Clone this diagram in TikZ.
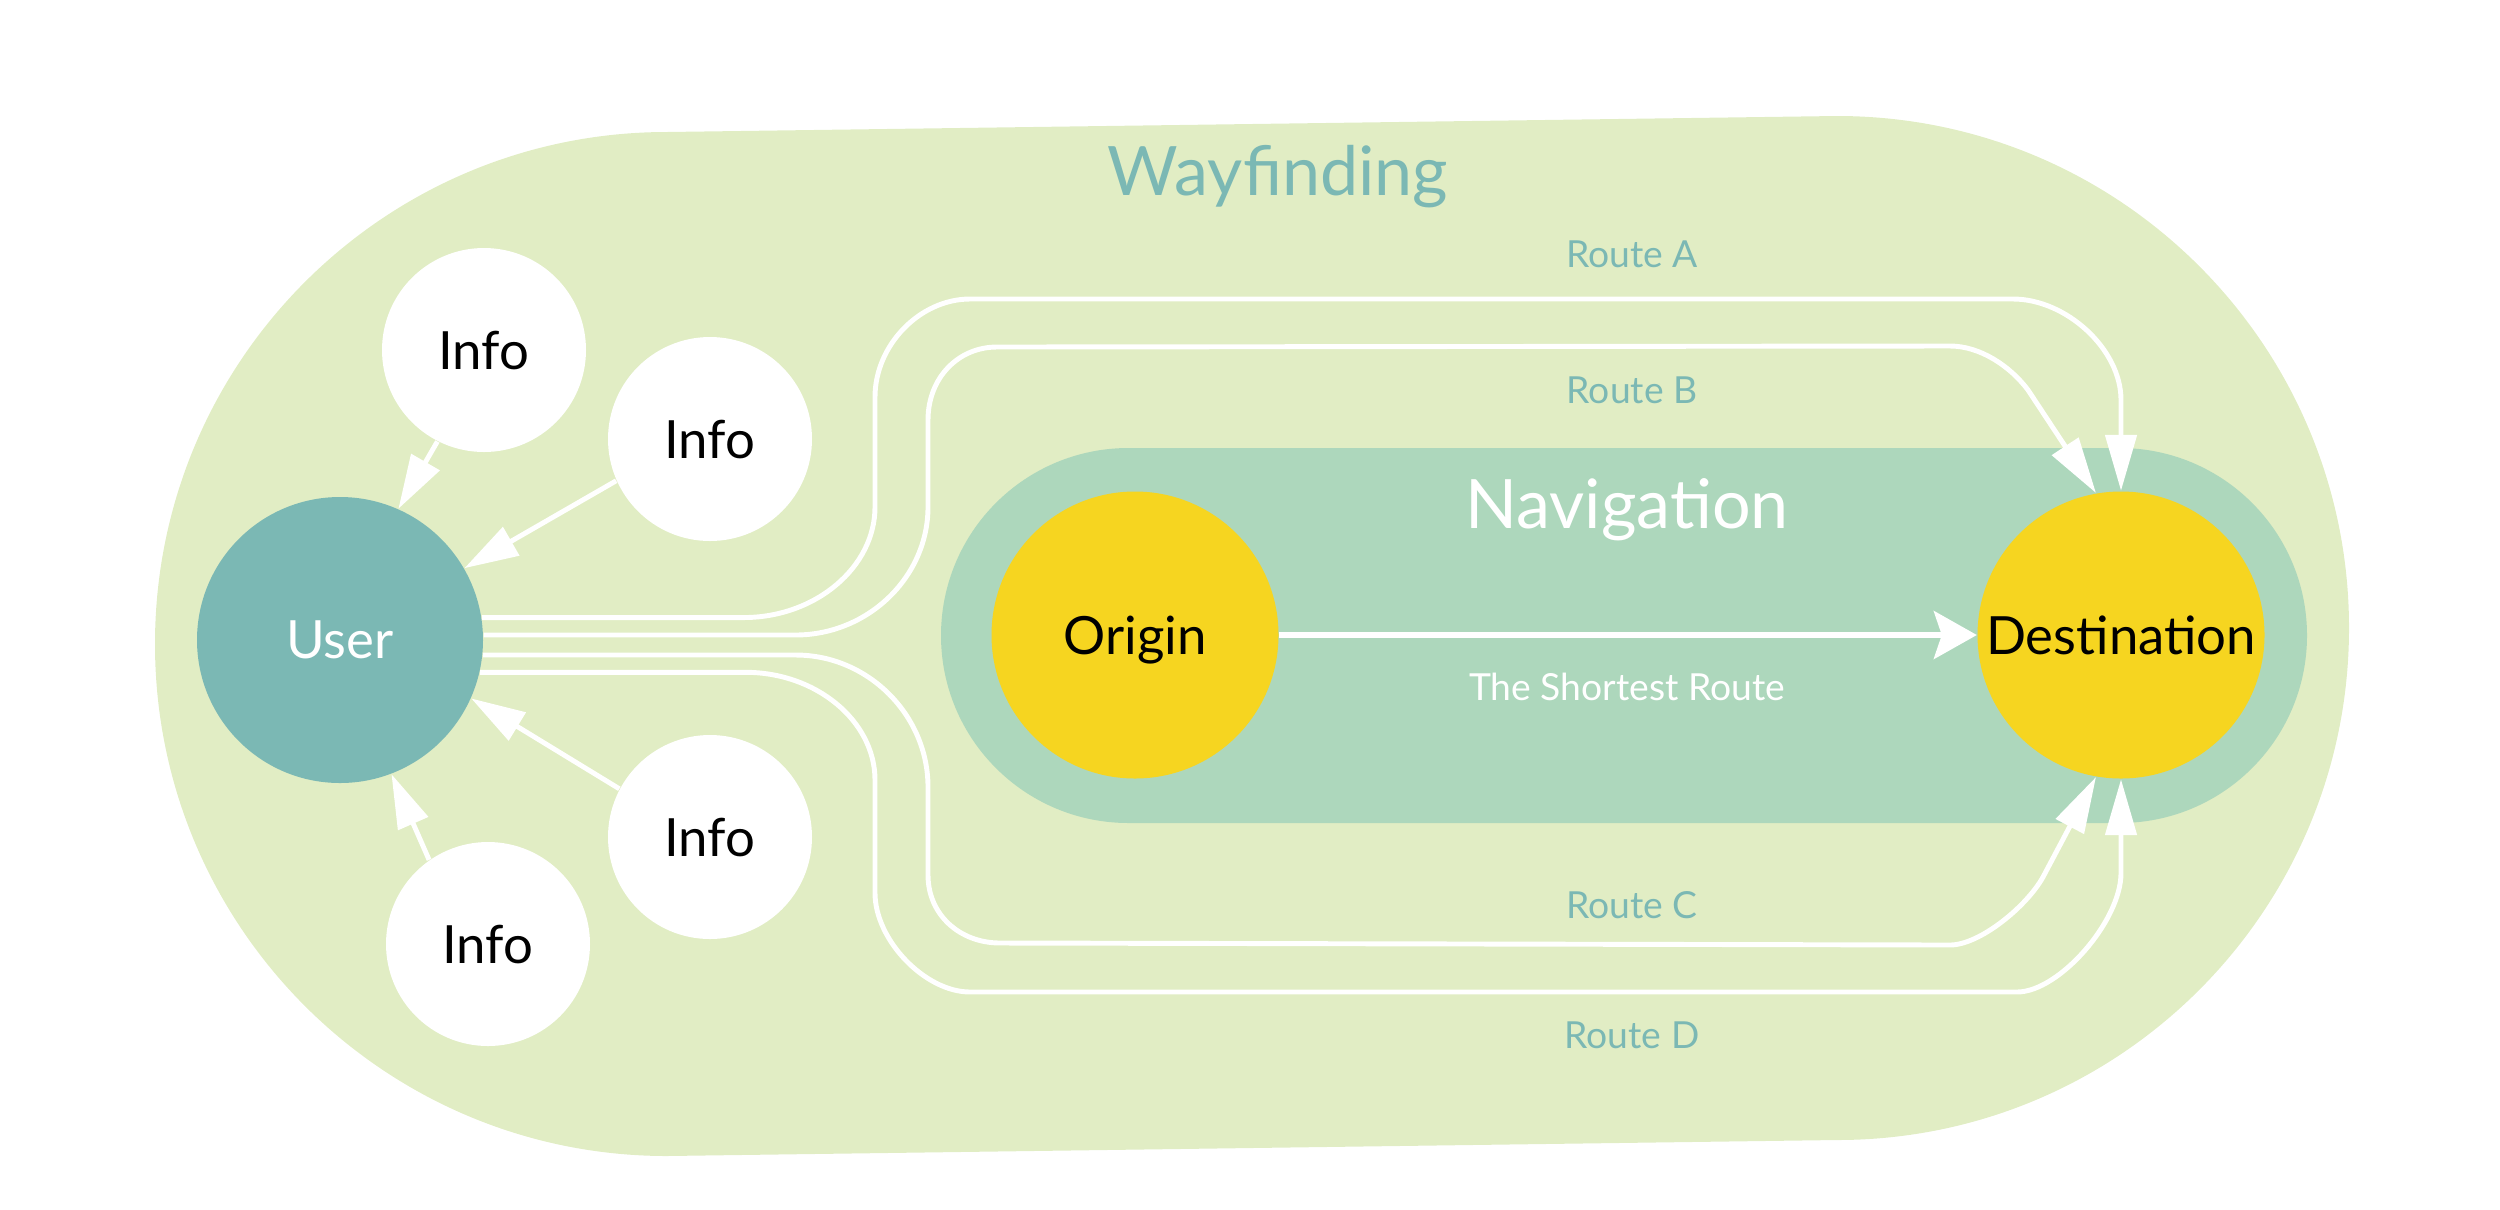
\documentclass[tikz,border=0pt]{standalone}
\usepackage{fontspec}
\setmainfont{Lato}
\usetikzlibrary{arrows.meta}
\definecolor{wayfill}{HTML}{E1EDC4}
\definecolor{navfill}{HTML}{ADD7BC}
\definecolor{usercol}{HTML}{7BB8B4}
\definecolor{placecol}{HTML}{F6D520}

\begin{document}
\begin{tikzpicture}[y=-1cm,
    spot/.style={circle,inner sep=0pt,text depth=0pt,font=\fontsize{15}{18}\selectfont},
    infospot/.style={spot,fill=white,minimum size=2.04cm},
    placespot/.style={spot,fill=placecol,minimum size=2.87cm},
    route/.style={white,line width=1.4pt,-{Triangle[length=0.56cm,width=0.31cm]}},
    infoarrow/.style={white,line width=1.4pt,-{Triangle[length=0.54cm,width=0.32cm]}},
    routelabel/.style={usercol,anchor=base,font=\fontsize{10.6}{13}\selectfont},
    bigtitle/.style={anchor=base,font=\fontsize{19.4}{23}\selectfont}]
  \useasboundingbox (0,0) rectangle (25,12.09);
  \fill[wayfill] (6.67,1.32) -- (18.37,1.16) arc[start angle=-90,end angle=90,radius=5.12]
    -- (6.67,11.56) arc[start angle=90,end angle=270,radius=5.12] -- cycle;
  \fill[navfill,rounded corners=1.875cm] (9.41,4.48) rectangle (23.07,8.23);

  \node[spot,fill=usercol,text=white,minimum size=2.86cm] (user) at (3.40,6.40) {User};
  \node[infospot] (info1) at (4.84,3.50) {Info};
  \node[infospot] (info2) at (7.10,4.39) {Info};
  \node[infospot] (info3) at (7.10,8.37) {Info};
  \node[infospot] (info4) at (4.88,9.44) {Info};
  \node[placespot] (origin) at (11.35,6.35) {Origin};
  \node[placespot] (dest) at (21.21,6.35) {Destination};

  \node[bigtitle,usercol] (wayname) at (12.78,1.95) {Wayfinding};
  \node[bigtitle,white] (navname) at (16.27,5.28) {Navigation};
  \node[routelabel,white] (shortname) at (16.27,7.00) {The Shortest Route};
  \node[routelabel] (labela) at (16.32,2.67) {Route A};
  \node[routelabel] (labelb) at (16.32,4.03) {Route B};
  \node[routelabel] (labelc) at (16.32,9.18) {Route C};
  \node[routelabel] (labeld) at (16.32,10.48) {Route D};

  \draw[infoarrow] (info1.243) -- (user.66);
  \draw[infoarrow] (info2.204) -- (user.30);
  \draw[infoarrow] (info3.152) -- (user.-24);
  \draw[infoarrow] (info4.125) -- (user.-69);

  \draw[white,line width=1.5pt,-{Stealth[length=0.43cm,width=0.48cm,inset=0.08cm]}] (origin) -- (dest);

  \draw[route] (user.9) -- ++(2.63,0) .. controls (8.16,6.17) and (8.75,5.67) .. (8.75,5.07)
    -- (8.75,3.97) .. controls (8.75,3.45) and (9.20,2.99) .. (9.70,2.99)
    -- (20.13,2.99) .. controls (20.66,2.99) and (21.21,3.49) .. (21.21,4.00) -- (dest.90);
  \draw[route] (user.2) -- ++(3.12,0) .. controls (8.68,6.35) and (9.28,5.77) .. (9.28,5.07)
    -- (9.28,4.20) .. controls (9.28,3.78) and (9.58,3.47) .. (9.97,3.47)
    -- (19.50,3.46) .. controls (19.80,3.46) and (20.10,3.66) .. (20.28,3.90) -- (dest.100);
  \draw[route] (user.-6) -- ++(3.13,0) .. controls (8.68,6.55) and (9.28,7.15) .. (9.28,7.87)
    -- (9.28,8.75) .. controls (9.28,9.15) and (9.60,9.43) .. (10.00,9.43)
    -- (19.50,9.45) .. controls (19.80,9.45) and (20.27,9.06) .. (20.43,8.77) -- (dest.-100);
  \draw[route] (user.-13) -- ++(2.65,0) .. controls (8.16,6.72) and (8.75,7.21) .. (8.75,7.80)
    -- (8.75,8.93) .. controls (8.75,9.40) and (9.25,9.92) .. (9.70,9.92)
    -- (20.17,9.92) .. controls (20.59,9.92) and (21.21,9.21) .. (21.21,8.73) -- (dest.-90);
\end{tikzpicture}
\end{document}
